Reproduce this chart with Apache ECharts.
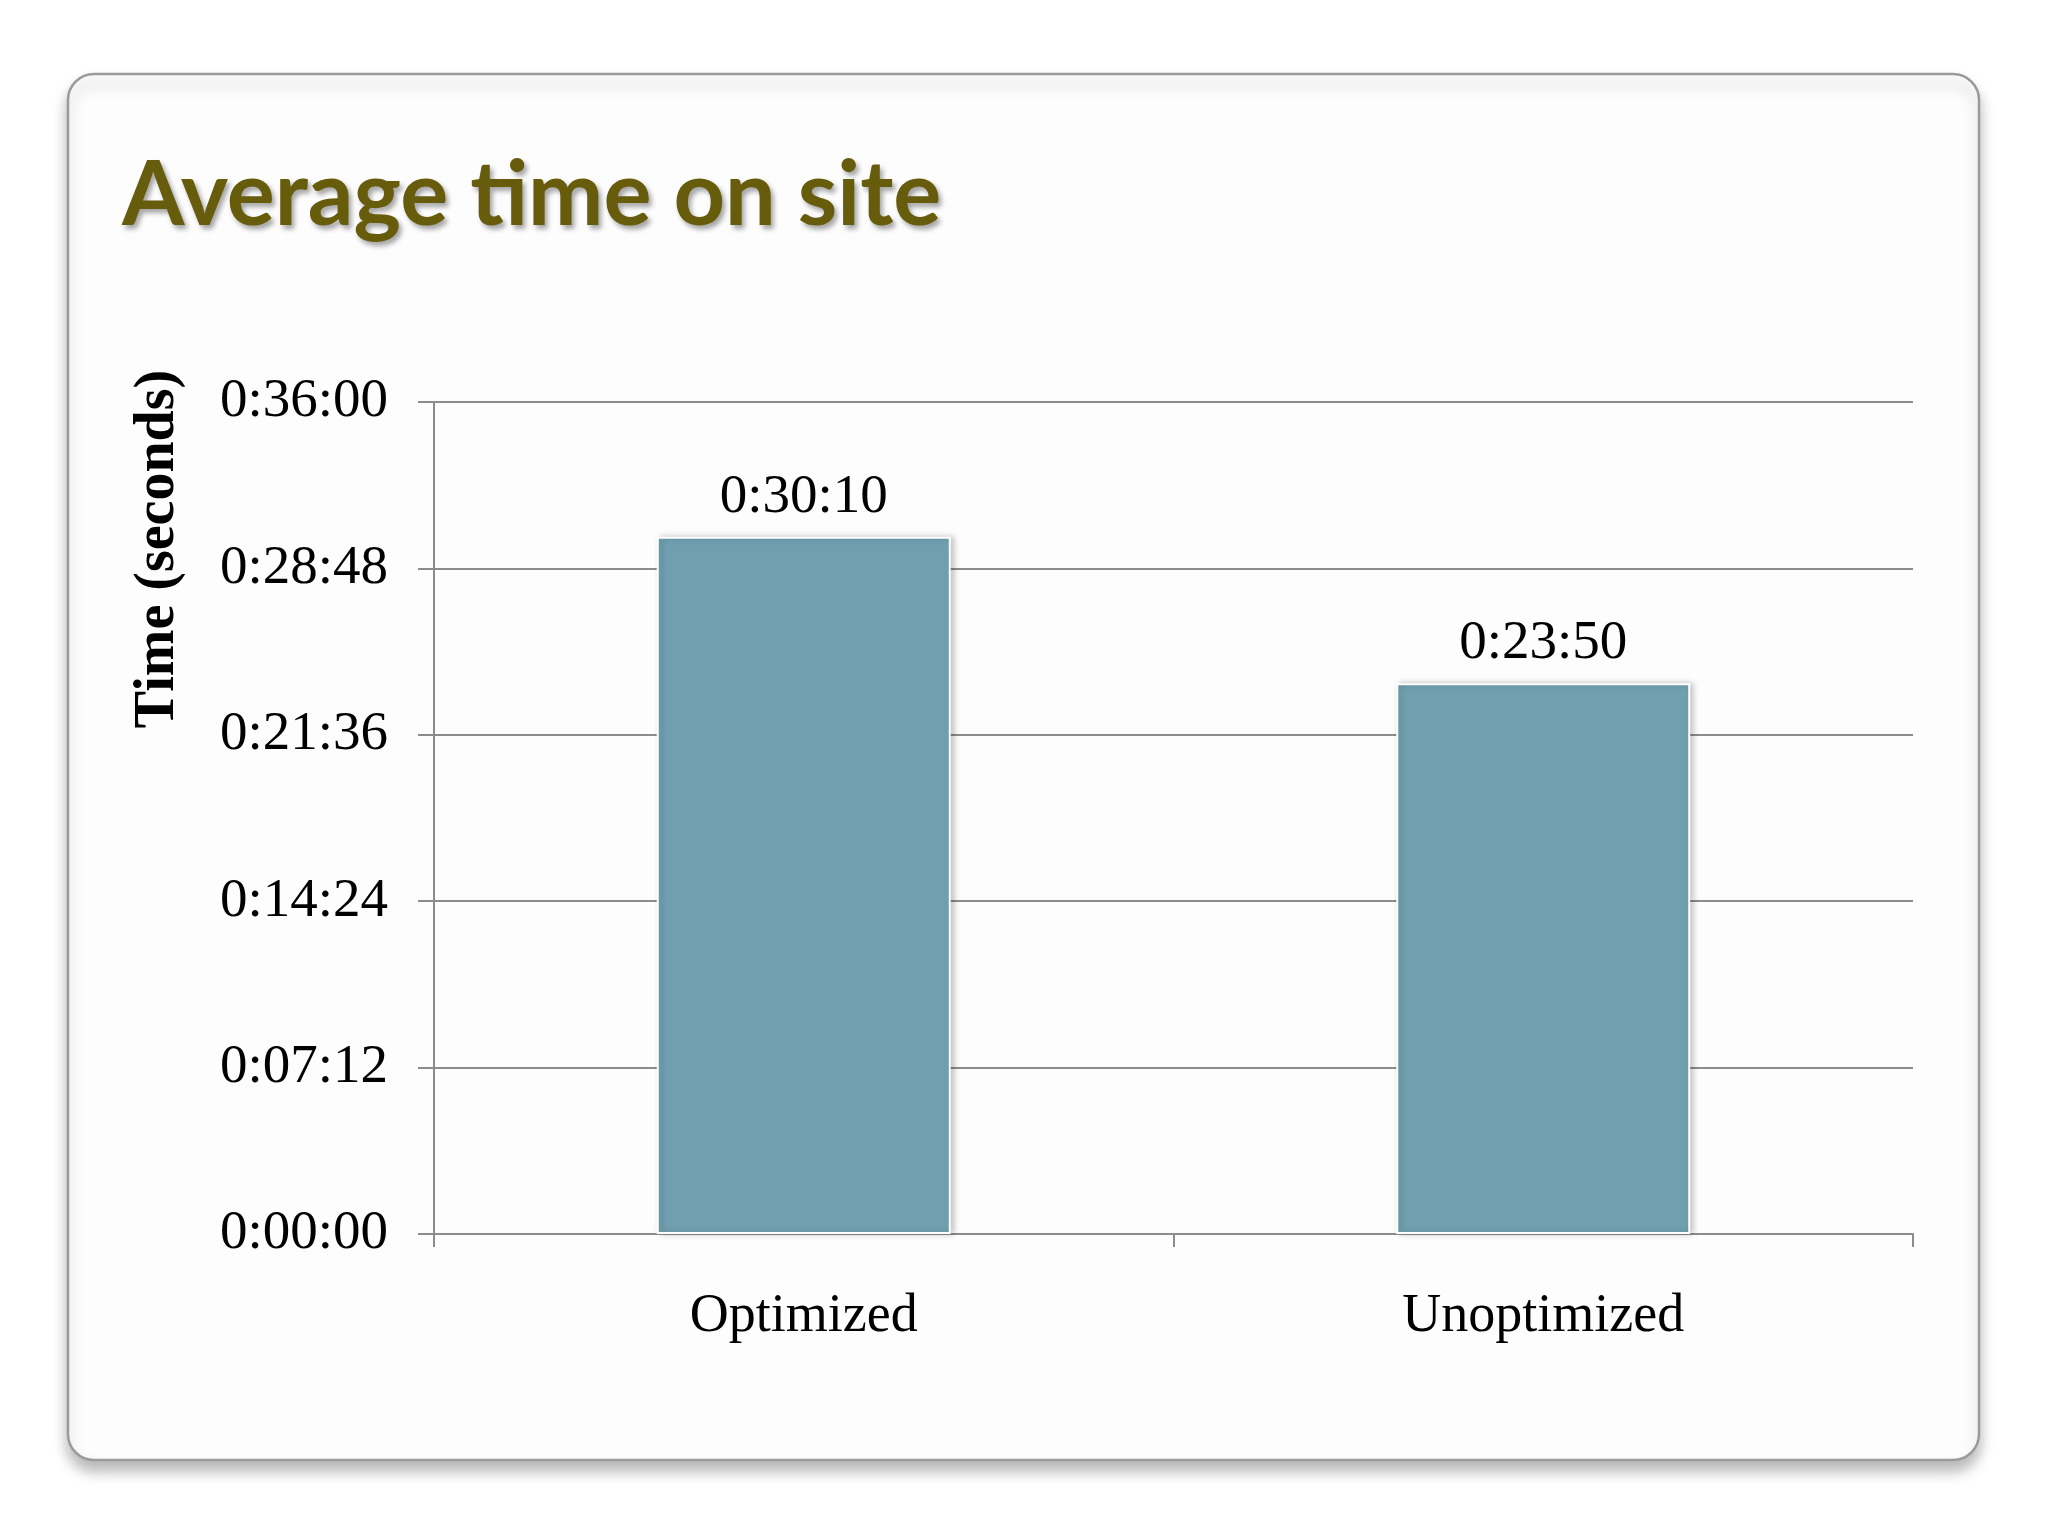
<!DOCTYPE html>
<html>
<head>
<meta charset="utf-8">
<style>
html,body{margin:0;padding:0;background:#ffffff;}
#chart{width:2048px;height:1536px;}
</style>
<script src="https://cdn.jsdelivr.net/npm/echarts@6/dist/echarts.min.js"></script>
</head>
<body>
<div id="chart"></div>
<script>
// Data (values in seconds)
const categories = ['Optimized', 'Unoptimized'];
const avgTimeSeconds = [1810, 1430]; // 0:30:10, 0:23:50
const yMax = 2160;       // 0:36:00
const yInterval = 432;   // 0:07:12
const titleText = 'Average time on site';
const yAxisTitle = 'Time (seconds)';

function pad(n){ return (n < 10 ? '0' : '') + n; }
function fmt(v){
  v = Math.round(v);
  const h = Math.floor(v / 3600);
  const m = Math.floor((v % 3600) / 60);
  const s = v % 60;
  return h + ':' + pad(m) + ':' + pad(s);
}

const chart = echarts.init(document.getElementById('chart'), null, {renderer: 'canvas'});
const serif = '"Liberation Serif", "DejaVu Serif", serif';

chart.setOption({
  backgroundColor: '#ffffff',
  animation: false,
  title: {
    text: titleText,
    left: 117,
    top: 146,
    textStyle: {
      fontFamily: 'Lato, "Open Sans", sans-serif',
      fontWeight: 'bold',
      fontSize: 90,
      color: '#675c0c',
      textShadowColor: 'rgba(0,0,0,0.35)',
      textShadowBlur: 5,
      textShadowOffsetX: 3,
      textShadowOffsetY: 4
    }
  },
  graphic: [
    {
      type: 'rect',
      z: -10,
      shape: {x: 68, y: 74, width: 1911, height: 1386, r: 26},
      style: {
        fill: '#fefdfe',
        stroke: '#9a9a9a',
        lineWidth: 2.5,
        shadowBlur: 14,
        shadowOffsetY: 10,
        shadowColor: 'rgba(0,0,0,0.28)'
      }
    },
    {
      type: 'text',
      x: 159,
      y: 549,
      rotation: Math.PI / 2,
      style: {
        text: yAxisTitle,
        fontFamily: serif,
        fontWeight: 'bold',
        fontSize: 56,
        fill: '#000',
        align: 'center',
        verticalAlign: 'middle'
      }
    }
  ],
  grid: {left: 434, right: 135, top: 402, bottom: 302, containLabel: false},
  xAxis: {
    type: 'category',
    data: categories,
    boundaryGap: true,
    axisLine: {show: true, lineStyle: {color: '#8c8c8c', width: 2}},
    axisTick: {show: true, length: 13, alignWithLabel: false, lineStyle: {color: '#8c8c8c', width: 2}},
    axisLabel: {
      margin: 56,
      fontFamily: serif,
      fontSize: 54,
      color: '#000'
    }
  },
  yAxis: {
    type: 'value',
    min: 0,
    max: yMax,
    interval: yInterval,
    axisLine: {show: true, lineStyle: {color: '#8c8c8c', width: 2}},
    axisTick: {show: true, length: 16, lineStyle: {color: '#8c8c8c', width: 2}},
    splitLine: {show: true, lineStyle: {color: '#8c8c8c', width: 2}},
    axisLabel: {
      margin: 46,
      fontFamily: serif,
      fontSize: 55,
      color: '#000',
      formatter: fmt
    }
  },
  series: [{
    type: 'bar',
    data: avgTimeSeconds,
    barWidth: 294,
    itemStyle: {
      color: '#70a0b0',
      borderColor: '#ffffff',
      borderWidth: 2,
      shadowBlur: 6,
      shadowOffsetX: 3,
      shadowOffsetY: 0,
      shadowColor: 'rgba(0,0,0,0.22)'
    },
    label: {
      show: true,
      position: 'top',
      distance: 12,
      fontFamily: serif,
      fontSize: 55,
      color: '#000',
      formatter: function(p){ return fmt(p.value); }
    }
  }]
});
</script>
</body>
</html>
